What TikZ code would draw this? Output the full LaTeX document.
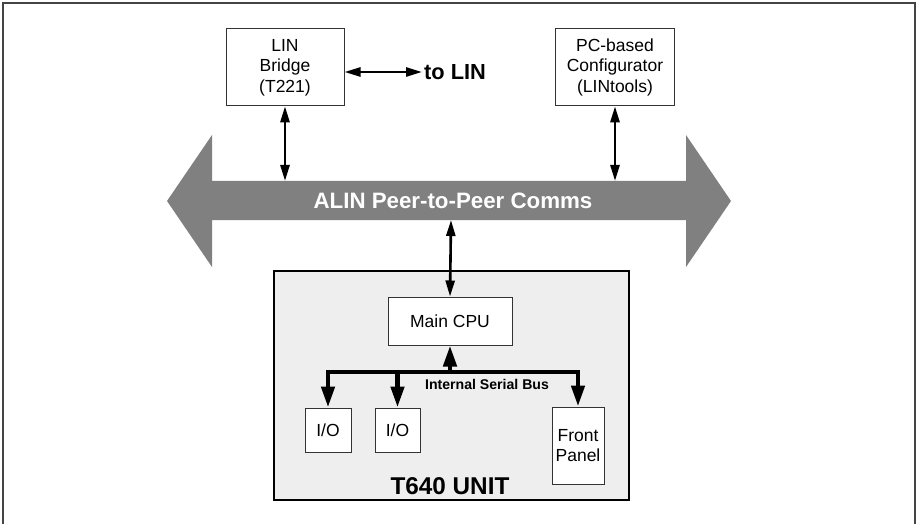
\documentclass[tikz,border=0pt]{standalone}
\usepackage{fontspec}
\setmainfont{Liberation Sans}
\usetikzlibrary{arrows.meta}
\definecolor{bargray}{HTML}{808080}
\definecolor{unitfill}{HTML}{EEEEEE}
\definecolor{framec}{HTML}{444444}
\tikzset{
  box/.style={draw=black!80, line width=1pt, fill=white, align=center, inner sep=0pt,
    font=\fontsize{17.5}{20.5}\selectfont},
  thinarrow/.style={line width=2.6pt, {Triangle[length=16pt,width=9pt]}-{Triangle[length=16pt,width=9pt]}},
  busline/.style={line width=4.5pt},
  busarrow/.style={line width=4.5pt, -{Triangle[length=21pt,width=13pt]}},
}
\begin{document}
\begin{tikzpicture}[x=1pt,y=-1pt]
\useasboundingbox (0,0) rectangle (919,524);
% outer frame
\draw[framec, line width=2pt] (3,530) -- (3,3) -- (915,3) -- (915,530);
% big double arrow
\fill[bargray] (167,201) -- (212,135) -- (212,181) -- (686,181) -- (686,135) -- (731,201)
  -- (686,267) -- (686,220) -- (212,220) -- (212,267) -- cycle;
\node[text=white, font=\fontsize{22.3}{26}\selectfont\bfseries] (alin) at (453,201) {ALIN Peer-to-Peer Comms};
\coordinate (barL) at (285,181);
\coordinate (barR) at (615,181);
\coordinate (barB) at (451,220);
% top boxes
\node[box, minimum width=118pt, minimum height=77pt] (bridge) at (285,67.3) {LIN\\Bridge\\(T221)};
\node[box, minimum width=119pt, minimum height=77pt] (pc) at (615,67.3) {PC-based\\Configurator\\(LINtools)};
\node[anchor=west, inner sep=0pt, font=\fontsize{21.8}{26}\selectfont\bfseries] (tolin) at (424,72) {to LIN};
% unit
\node[draw=black, line width=2pt, fill=unitfill, minimum width=355pt, minimum height=229pt, inner sep=0pt] (unit) at (451.5,385.5) {};
\node[font=\fontsize{24.3}{28}\selectfont\bfseries, inner sep=0pt] (unitlabel) at (450,486) {T640 UNIT};
\node[box, minimum width=124pt, minimum height=48pt] (cpu) at (450,321) {Main CPU};
\node[box, minimum width=46pt, minimum height=44pt] (io1) at (328,430) {I/O};
\node[box, minimum width=45pt, minimum height=44pt] (io2) at (397.5,430) {I/O};
\node[box, minimum width=52pt, minimum height=77pt] (fp) at (578,445.5) {Front\\Panel};
\node[font=\fontsize{14.1}{17}\selectfont\bfseries, inner sep=0pt] (buslabel) at (487,384.5) {Internal Serial Bus};
% connectors
\draw[thinarrow] (bridge.south) -- (barL);
\draw[thinarrow] (pc.south) -- (barR);
\draw[thinarrow] (tolin.west -| bridge.east) -- ([xshift=-2pt]tolin.west);
\draw[thinarrow] (barB) -- (cpu.north);
% bus
\coordinate (busL) at (328,372);
\coordinate (busR) at (578,372);
\coordinate (busM) at (450,372);
\draw[busline, line cap=butt] ([xshift=-2.25pt]busL) -- ([xshift=2.25pt]busR);
\draw[busarrow] (busM) -- (cpu.south);
\draw[busarrow] (busL) -- (io1.north);
\draw[busarrow] (busL -| io2.north) -- (io2.north);
\draw[busarrow] (busR) -- (fp.north);
\end{tikzpicture}
\end{document}
